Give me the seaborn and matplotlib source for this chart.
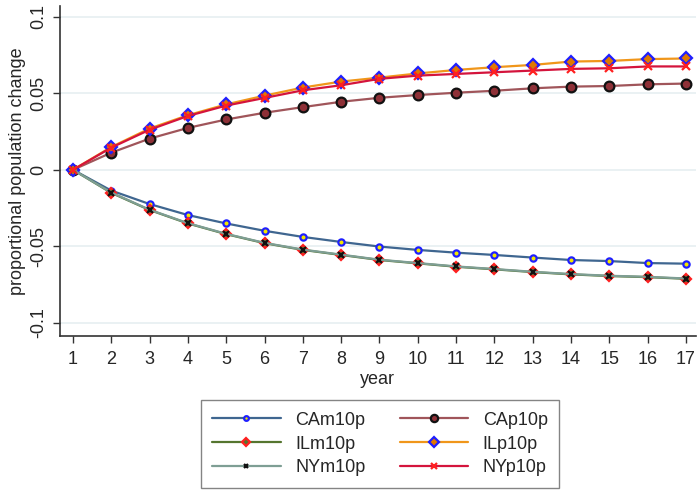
import numpy as np
import pandas as pd
import matplotlib
matplotlib.use("Agg")
import matplotlib.pyplot as plt
import seaborn as sns

# data
years = list(range(1, 18))
cam10p = [0, -0.0136, -0.0224, -0.0296, -0.0351, -0.0399, -0.0439, -0.0472, -0.0502,
          -0.0524, -0.0542, -0.0557, -0.0574, -0.0590, -0.0597, -0.0610, -0.0614]
cap10p = [0, 0.0112, 0.0204, 0.0274, 0.0329, 0.0373, 0.0410, 0.0445, 0.0471,
          0.0489, 0.0504, 0.0517, 0.0533, 0.0544, 0.0548, 0.0559, 0.0564]
ilm10p = [0, -0.0151, -0.0263, -0.0351, -0.0421, -0.0480, -0.0524, -0.0557, -0.0590,
          -0.0612, -0.0634, -0.0651, -0.0669, -0.0684, -0.0695, -0.0702, -0.0713]
ilp10p = [0, 0.0149, 0.0270, 0.0357, 0.0428, 0.0485, 0.0538, 0.0577, 0.0603,
          0.0630, 0.0653, 0.0671, 0.0686, 0.0708, 0.0712, 0.0724, 0.0728]
nym10p = [0, -0.0149, -0.0261, -0.0349, -0.0419, -0.0478, -0.0522, -0.0555, -0.0588,
          -0.0610, -0.0632, -0.0649, -0.0667, -0.0682, -0.0693, -0.0700, -0.0711]
nyp10p = [0, 0.0145, 0.0262, 0.0352, 0.0420, 0.0470, 0.0520, 0.0553, 0.0595,
          0.0616, 0.0627, 0.0638, 0.0649, 0.0660, 0.0664, 0.0676, 0.0676]

y_ticks = [-0.1, -0.05, 0, 0.05, 0.1]
y_ticklabels = ["-0.1", "-0.05", "0", "0.05", "0.1"]

# line colour, marker, face, edge, size
styles = {
    "CAm10p": (cam10p, "#3f6690", "o", "#f2e600", "#1f1fff", 4.5),
    "CAp10p": (cap10p, "#a0555a", "o", "#8e3037", "#111111", 7),
    "ILm10p": (ilm10p, "#55752f", "D", "#55752f", "#ff2020", 5.5),
    "ILp10p": (ilp10p, "#f0961a", "D", "#e07800", "#1f1fff", 6.5),
    "NYm10p": (nym10p, "#7e9e94", "x", "#111111", "#111111", 4.5),
    "NYp10p": (nyp10p, "#d4143c", "x", "#ff2020", "#ff2020", 5.5),
}

sns.set_style("white")
plt.rcParams["font.family"] = ["Liberation Sans", "DejaVu Sans"]

fig = plt.figure(figsize=(6.97, 4.91), dpi=100)
ax = fig.add_axes([0.086, 0.316, 0.912, 0.672])

for name, (vals, lc, mk, fc, ec, ms) in styles.items():
    df = pd.DataFrame({"year": years, "value": vals})
    sns.lineplot(data=df, x="year", y="value", ax=ax, color=lc, linewidth=1.6,
                 marker=mk, markersize=ms, markerfacecolor=fc, markeredgecolor=ec,
                 markeredgewidth=1.6, label=name)

ax.set_xlim(0.66, 17.25)
ax.set_ylim(-0.1086, 0.1072)
ax.set_xticks(years)
ax.set_xticklabels([str(y) for y in years], fontsize=13)
ax.set_yticks(y_ticks)
ax.set_yticklabels(y_ticklabels, fontsize=13, rotation=90, va="center")
ax.grid(axis="y", color="#e6eff1", linewidth=1.2)
ax.grid(axis="x", visible=False)
ax.tick_params(axis="both", direction="out", length=5, width=1, color="#333333",
               left=True, bottom=True, pad=6)
ax.tick_params(axis="y", pad=4)
ax.set_xlabel("year", fontsize=13, labelpad=2)
ax.set_ylabel("proportional population change", fontsize=13, labelpad=3)
for s in ["top", "right"]:
    ax.spines[s].set_visible(False)
for s in ["left", "bottom"]:
    ax.spines[s].set_color("#333333")
    ax.spines[s].set_linewidth(1.2)

h, l = ax.get_legend_handles_labels()
ax.legend_.remove()
order = ["CAm10p", "ILm10p", "NYm10p", "CAp10p", "ILp10p", "NYp10p"]
hd = dict(zip(l, h))
leg = fig.legend([hd[k] for k in order], order, loc="center",
                 bbox_to_anchor=(0.545, 0.0957), ncol=2, fontsize=13,
                 frameon=True, fancybox=False, edgecolor="#666666",
                 handlelength=3.8, handletextpad=0.8, columnspacing=1.9,
                 labelspacing=0.38, borderpad=0.62, markerscale=0.75)
leg.get_frame().set_linewidth(1.0)

fig.savefig("out.png", dpi=100)
